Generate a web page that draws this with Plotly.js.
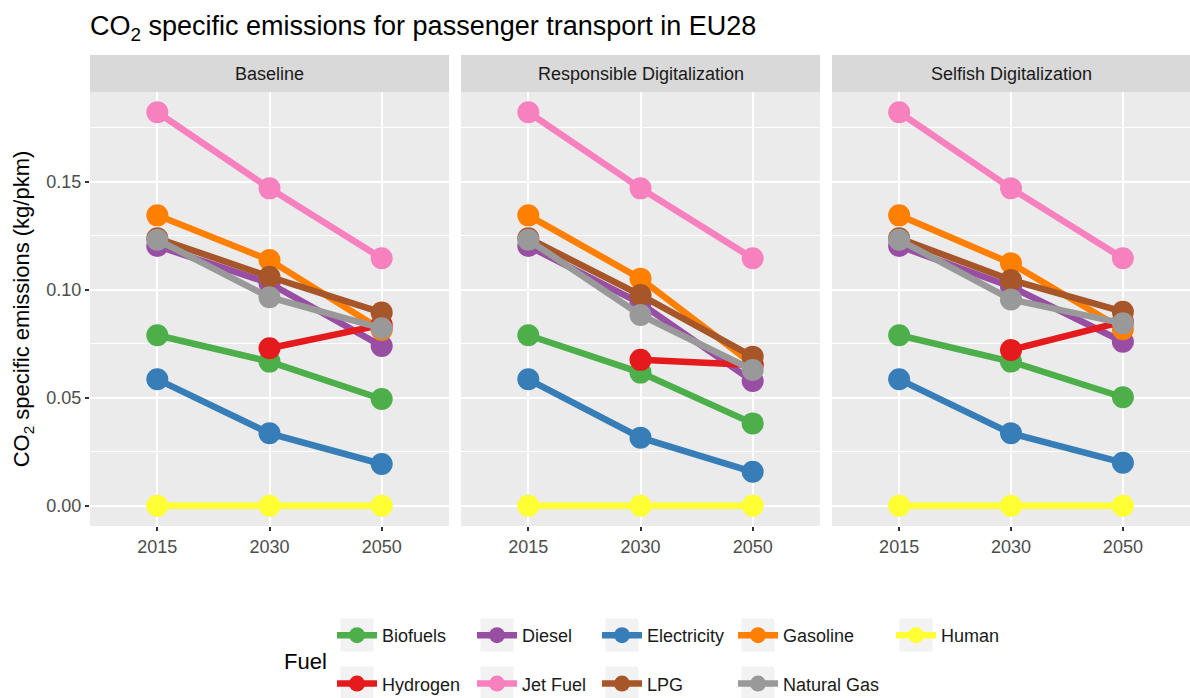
<!DOCTYPE html>
<html>
<head>
<meta charset="utf-8">
<script src="https://cdn.plot.ly/plotly-3.0.1.min.js"></script>
<style>html,body{margin:0;padding:0;background:#fff;}#chart{width:1190px;height:698px;}</style>
</head>
<body>
<div id="chart"></div>
<script>
// ---- data ----
const years = ['2015', '2030', '2050'];
const scenarios = ['Baseline', 'Responsible Digitalization', 'Selfish Digitalization'];
const fuels = ['Biofuels', 'Diesel', 'Electricity', 'Gasoline', 'Human', 'Hydrogen', 'Jet Fuel', 'LPG', 'Natural Gas'];

// each array: [Baseline, Responsible Digitalization, Selfish Digitalization], values for 2015, 2030, 2050
const biofuels    = [[0.0789, 0.0667, 0.0494], [0.0789, 0.0616, 0.0381], [0.0789, 0.0667, 0.0502]];
const diesel      = [[0.1202, 0.1030, 0.0739], [0.1202, 0.0937, 0.0577], [0.1202, 0.1014, 0.0759]];
const electricity = [[0.0585, 0.0335, 0.0193], [0.0585, 0.0315, 0.0157], [0.0585, 0.0335, 0.0199]];
const gasoline    = [[0.1344, 0.1137, 0.0813], [0.1344, 0.1051, 0.0655], [0.1344, 0.1122, 0.0817]];
const human       = [[0, 0, 0], [0, 0, 0], [0, 0, 0]];
const hydrogen    = [[null, 0.0729, 0.0837], [null, 0.0675, 0.0651], [null, 0.0721, 0.0852]];
const jetFuel     = [[0.1821, 0.1469, 0.1145], [0.1821, 0.1469, 0.1145], [0.1821, 0.1469, 0.1145]];
const lpg         = [[0.1238, 0.1060, 0.0894], [0.1238, 0.0975, 0.0690], [0.1238, 0.1045, 0.0898]];
const naturalGas  = [[0.1231, 0.0965, 0.0821], [0.1231, 0.0883, 0.0628], [0.1231, 0.0955, 0.0844]];

const seriesByFuel = [biofuels, diesel, electricity, gasoline, human, hydrogen, jetFuel, lpg, naturalGas];

// ---- styles ----
const fuelColors = ['#4DAF4A', '#984EA3', '#377EB8', '#FF7F00', '#FFFF33', '#E41A1C', '#F781BF', '#A65628', '#999999'];
const FONT = 'Liberation Sans, Arial, Helvetica, sans-serif';
const W = 1190, H = 698;
const M = {l: 90, r: 0, t: 92, b: 172};
const plotW = W - M.l - M.r, plotH = H - M.t - M.b;
const panelW = 359, gap = 12;
const legendCols = [357, 497, 622, 758, 916];   // icon centres (px)
const legendRows = [635, 683];                   // row centres (px)
const ITEMW = 40;

const px2x = p => (p - M.l) / plotW;
const py2y = p => (H - M.b - p) / plotH;

const traces = [];
scenarios.forEach((sc, s) => {
  const ax = s === 0 ? '' : String(s + 1);
  fuels.forEach((f, i) => {
    const col = i % 5;
    traces.push({
      type: 'scatter',
      mode: 'lines+markers',
      name: f,
      legendgroup: f,
      legend: col === 0 ? 'legend' : 'legend' + (col + 1),
      showlegend: s === 0,
      x: years,
      y: seriesByFuel[i][s],
      xaxis: 'x' + ax,
      yaxis: 'y' + ax,
      line: {color: fuelColors[i], width: 6.5},
      marker: {color: fuelColors[i], size: 22, line: {width: 0}},
      connectgaps: false,
      hovertemplate: sc + '<br>' + f + ': %{y:.3f}<extra></extra>'
    });
  });
});

const layout = {
  width: W, height: H,
  margin: {l: M.l, r: M.r, t: M.t, b: M.b, autoexpand: false},
  paper_bgcolor: '#ffffff',
  plot_bgcolor: '#ebebeb',
  font: {family: FONT, size: 18, color: '#4d4d4d'},
  title: {
    text: 'CO<sub>2</sub> specific emissions for passenger transport in EU28',
    x: 0, xref: 'paper', xanchor: 'left',
    y: 1 - 26 / H, yref: 'container', yanchor: 'middle',
    font: {family: FONT, size: 27, color: '#000000'}
  },
  shapes: [],
  annotations: [],
  showlegend: true
};

scenarios.forEach((sc, s) => {
  const ax = s === 0 ? '' : String(s + 1);
  const x0 = s * (panelW + gap);
  const x1 = s === 2 ? plotW : x0 + panelW;
  layout['xaxis' + ax] = {
    domain: [x0 / plotW, x1 / plotW],
    anchor: 'y' + ax,
    type: 'category',
    categoryorder: 'array',
    categoryarray: years,
    range: [-0.6, 2.6],
    showgrid: true, gridcolor: '#ffffff', gridwidth: 2,
    zeroline: false, showline: false,
    ticks: 'outside', ticklen: 4, tickwidth: 1.5, tickcolor: '#333333',
    tickfont: {family: FONT, size: 18, color: '#4d4d4d'},
    fixedrange: true
  };
  const yax = {
    domain: [0, 1],
    anchor: 'x' + ax,
    range: [-0.0094, 0.1915],
    tick0: 0, dtick: 0.05, tickformat: '.2f',
    showgrid: true, gridcolor: '#ffffff', gridwidth: 2,
    minor: {tick0: 0, dtick: 0.025, showgrid: true, gridcolor: '#ffffff', gridwidth: 1, ticks: ''},
    zeroline: false, showline: false,
    fixedrange: true
  };
  if (s === 0) {
    Object.assign(yax, {
      ticks: 'outside', ticklen: 4, tickwidth: 1.5, tickcolor: '#333333',
      tickfont: {family: FONT, size: 18, color: '#4d4d4d'},
      title: {text: 'CO<sub>2</sub> specific emissions (kg/pkm)', font: {family: FONT, size: 22, color: '#000000'}, standoff: 10}
    });
  } else {
    Object.assign(yax, {matches: 'y', showticklabels: false, ticks: ''});
  }
  layout['yaxis' + ax] = yax;

  // facet strip
  layout.shapes.push({
    type: 'rect', xref: 'x' + ax + ' domain', yref: 'y' + ax + ' domain',
    x0: 0, x1: 1, y0: 1, y1: 1 + 37 / plotH,
    fillcolor: '#d9d9d9', line: {width: 0}, layer: 'above'
  });
  layout.annotations.push({
    text: sc, showarrow: false,
    xref: 'x' + ax + ' domain', yref: 'y' + ax + ' domain',
    x: 0.5, y: 1 + 18.5 / plotH, xanchor: 'center', yanchor: 'middle',
    font: {family: FONT, size: 18, color: '#1a1a1a'}
  });
});

// legends: one per column
legendCols.forEach((cx, c) => {
  const key = c === 0 ? 'legend' : 'legend' + (c + 1);
  layout[key] = {
    x: px2x(cx - ITEMW / 2 - 5), xanchor: 'left',
    y: py2y(legendRows[0] - 18), yanchor: 'top',
    orientation: 'v',
    bgcolor: 'rgba(0,0,0,0)',
    borderwidth: 0,
    itemwidth: ITEMW,
    tracegroupgap: 22,
    font: {family: FONT, size: 18, color: '#1a1a1a'},
    itemclick: 'toggle'
  };
  legendRows.forEach((ry, r) => {
    if (r * 5 + c < fuels.length) {
      layout.shapes.push({
        type: 'rect', xref: 'paper', yref: 'paper',
        x0: px2x(cx - 16.5), x1: px2x(cx + 16.5),
        y0: py2y(ry + 16.5), y1: py2y(ry - 16.5),
        fillcolor: '#f2f2f2', line: {width: 0}, layer: 'below'
      });
    }
  });
});

layout.annotations.push({
  text: 'Fuel', showarrow: false,
  xref: 'paper', yref: 'paper',
  x: px2x(282), y: py2y(661), xanchor: 'left', yanchor: 'middle',
  font: {family: FONT, size: 22, color: '#000000'}
});

Plotly.newPlot('chart', traces, layout, {displayModeBar: false, responsive: false});
</script>
</body>
</html>
